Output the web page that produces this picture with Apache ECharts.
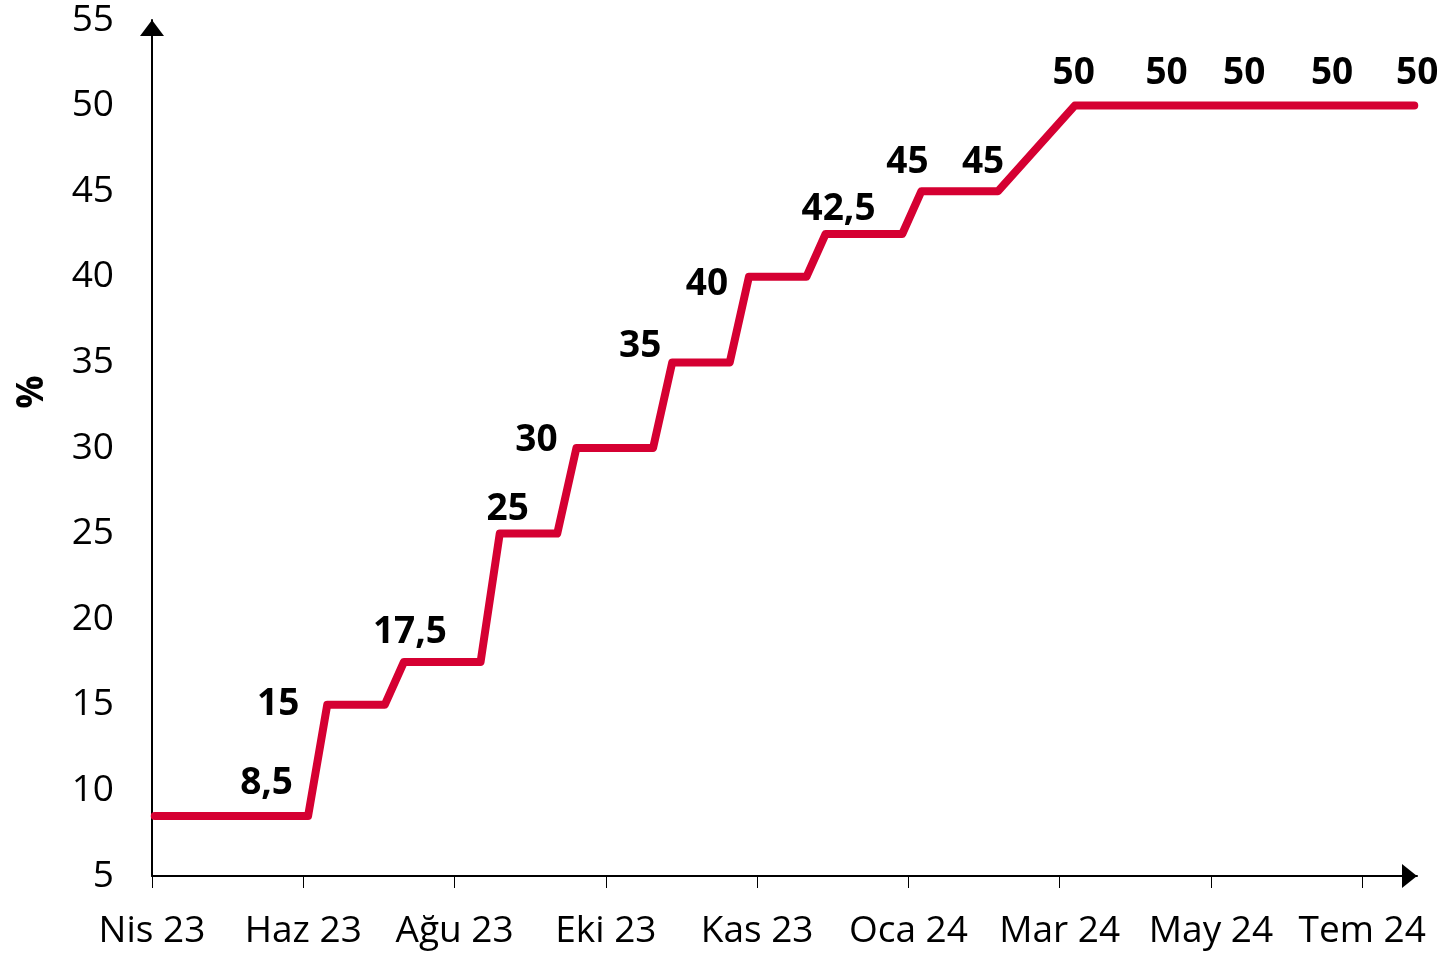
<!DOCTYPE html>
<html>
<head>
<meta charset="utf-8">
<script src="https://cdn.jsdelivr.net/npm/echarts@6/dist/echarts.min.js"></script>
<style>
html,body{margin:0;padding:0;background:#fff;}
#c{width:1445px;height:955px;}
</style>
</head>
<body>
<div id="c"></div>
<script>
// Weekly observations (policy rate, %)
const dates = [
  '2023-04-21','2023-04-28','2023-05-05','2023-05-12','2023-05-19','2023-05-26',
  '2023-06-02','2023-06-09','2023-06-16','2023-06-23','2023-06-30',
  '2023-07-07','2023-07-14','2023-07-21','2023-07-28',
  '2023-08-04','2023-08-11','2023-08-18','2023-08-25',
  '2023-09-01','2023-09-08','2023-09-15','2023-09-22','2023-09-29',
  '2023-10-06','2023-10-13','2023-10-20','2023-10-27',
  '2023-11-03','2023-11-10','2023-11-17','2023-11-24',
  '2023-12-01','2023-12-08','2023-12-15','2023-12-22','2023-12-29',
  '2024-01-05','2024-01-12','2024-01-19','2024-01-26',
  '2024-02-02','2024-02-09','2024-02-16','2024-02-23',
  '2024-03-22','2024-03-29',
  '2024-04-05','2024-04-12','2024-04-19','2024-04-26',
  '2024-05-03','2024-05-10','2024-05-17','2024-05-24','2024-05-31',
  '2024-06-07','2024-06-14','2024-06-21','2024-06-28',
  '2024-07-05','2024-07-12','2024-07-19','2024-07-24'
];
const rates = [
  8.5,8.5,8.5,8.5,8.5,8.5,8.5,8.5,8.5,
  15,15,15,15,
  17.5,17.5,17.5,17.5,17.5,
  25,25,25,25,
  30,30,30,30,30,
  35,35,35,35,
  40,40,40,40,
  42.5,42.5,42.5,42.5,42.5,
  45,45,45,45,45,
  50,50,50,50,50,50,50,50,50,50,50,50,50,50,50,50,50,50,50
];
const tickLabels = ['Nis 23','Haz 23','Ağu 23','Eki 23','Kas 23','Oca 24','Mar 24','May 24','Tem 24'];

// Labelled points (decision weeks)
const labelDates = ['2023-05-26','2023-06-23','2023-07-21','2023-08-25','2023-09-22','2023-10-27',
  '2023-11-24','2023-12-22','2024-01-26','2024-02-23','2024-03-22','2024-04-26','2024-05-24',
  '2024-06-28','2024-07-24'];
const labelValues = [8.5,15,17.5,25,30,35,40,42.5,45,45,50,50,50,50,50];

// label placement (pixels, style only)
const labelShift = [[16,-33],[-49,0],[6,-30],[8,-24],[-40,-8],[-32,-16],[-42,8],[13,-25],
  [-14,-29],[-15,-29],[-1,-32],[-4,-32],[-3,-32],[-11,-32],[3,-32]];

const axisStart = Date.UTC(2023, 3, 20);
const DAY = 86400000;
function dayOf(s) {
  const p = s.split('-');
  return (Date.UTC(+p[0], +p[1] - 1, +p[2]) - axisStart) / DAY;
}
const tickStep = 55.25;
const xMax = 462;
const tickValues = tickLabels.map((_, i) => i * tickStep);
const FONT = 'Open Sans';

const chart = echarts.init(document.getElementById('c'), null, {renderer: 'canvas'});
chart.setOption({
  animation: false,
  backgroundColor: '#fff',
  grid: {left: 152, right: 28, top: 20, bottom: 79, containLabel: false, outerBoundsMode: 'none'},
  xAxis: {
    type: 'value', min: 0, max: xMax,
    axisLine: {show: true, onZero: false, lineStyle: {color: '#000', width: 2},
      symbol: ['none', 'triangle'], symbolSize: [24, 15], symbolOffset: [0, -7.5]},
    axisTick: {show: true, customValues: tickValues, length: 12, lineStyle: {color: '#000', width: 1}},
    axisLabel: {customValues: tickValues, formatter: v => tickLabels[Math.round(v / tickStep)],
      fontFamily: FONT, fontSize: 37, color: '#000', margin: 37},
    splitLine: {show: false}
  },
  yAxis: {
    type: 'value', min: 5, max: 55, interval: 5,
    axisLine: {show: true, lineStyle: {color: '#000', width: 2},
      symbol: ['none', 'triangle'], symbolSize: [24, 16], symbolOffset: [0, -8]},
    axisTick: {show: false},
    splitLine: {show: false},
    axisLabel: {fontFamily: FONT, fontSize: 37, color: '#000', margin: 38},
    name: '%', nameLocation: 'middle', nameRotate: 90, nameGap: 101,
    nameTextStyle: {fontFamily: FONT, fontSize: 37, fontWeight: 'bold', color: '#000',
      padding: [0, 0, 0, 112]}
  },
  series: [
    {
      type: 'line',
      data: dates.map((d, i) => [dayOf(d), rates[i]]),
      showSymbol: false, symbol: 'none', clip: false, z: 3,
      lineStyle: {color: '#D50032', width: 8, cap: 'round', join: 'round'}
    },
    {
      type: 'scatter', symbolSize: 0, silent: true, clip: false, z: 5,
      itemStyle: {opacity: 1},
      data: labelDates.map((d, i) => ({value: [dayOf(d), labelValues[i]],
        label: {offset: labelShift[i]}})),
      label: {show: true, position: [0, 0], align: 'center', verticalAlign: 'middle',
        formatter: p => String(p.value[1]).replace('.', ','),
        fontFamily: FONT, fontSize: 37, fontWeight: 'bold', color: '#000', opacity: 1}
    }
  ]
});
</script>
</body>
</html>
